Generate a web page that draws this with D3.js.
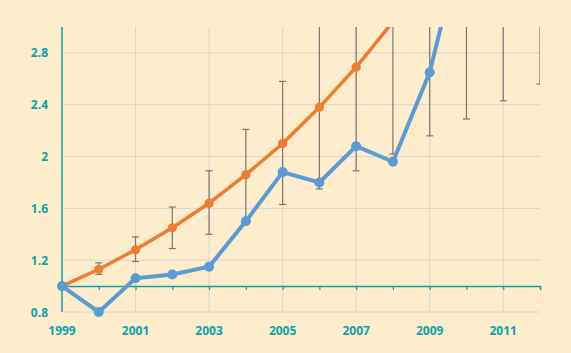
<!DOCTYPE html>
<html>
<head>
<meta charset="utf-8">
<script src="https://cdn.jsdelivr.net/npm/d3@7"></script>
<style>
  body { margin: 0; background: #fdedcd; }
  svg { display: block; }
  .tick-label { font-family: "Open Sans", "DejaVu Sans", sans-serif; font-weight: 700; font-size: 12px; fill: #0aa3a6; }
</style>
</head>
<body>
<script>
// data
const years = [1999, 2000, 2001, 2002, 2003, 2004, 2005, 2006, 2007, 2008, 2009, 2010, 2011, 2012];
const orangeYears = [1999, 2000, 2001, 2002, 2003, 2004, 2005, 2006, 2007, 2008];
const orangeValues = [1.0, 1.13, 1.28, 1.45, 1.64, 1.86, 2.10, 2.38, 2.69, 3.04];
const blueYears = [1999, 2000, 2001, 2002, 2003, 2004, 2005, 2006, 2007, 2008, 2009, 2010];
const blueValues = [1.0, 0.8, 1.06, 1.09, 1.15, 1.50, 1.88, 1.80, 2.08, 1.96, 2.65, 3.8];
const errYears = [2000, 2001, 2002, 2003, 2004, 2005, 2006, 2007, 2008, 2009, 2010, 2011, 2012];
const errLow = [1.09, 1.19, 1.29, 1.40, 1.50, 1.63, 1.75, 1.89, 2.02, 2.16, 2.29, 2.43, 2.56];
const errHigh = [1.18, 1.38, 1.61, 1.89, 2.21, 2.58, 3.1, 3.5, 3.9, 4.3, 4.7, 5.1, 5.5];
const xTicks = [1999, 2001, 2003, 2005, 2007, 2009, 2011];
const yTicks = [0.8, 1.2, 1.6, 2, 2.4, 2.8];

const width = 571, height = 353;
const margin = { top: 27, right: 31, bottom: 41, left: 62 };
const w = width - margin.left - margin.right;
const h = height - margin.top - margin.bottom;

const svg = d3.select('body').append('svg')
    .attr('width', width)
    .attr('height', height);

svg.append('rect').attr('width', width).attr('height', height).attr('fill', '#fdedcd');

const g = svg.append('g').attr('transform', `translate(${margin.left},${margin.top})`);

const x = d3.scaleLinear().domain([1999, 2012]).range([0, w]);
const y = d3.scaleLinear().domain([0.8, 3.0]).range([h, 0]);

// grid
g.selectAll('.hgrid').data(yTicks).join('line')
    .attr('x1', 0).attr('x2', w)
    .attr('y1', d => y(d)).attr('y2', d => y(d))
    .attr('stroke', '#d9d5cc').attr('stroke-width', 1);
g.selectAll('.vgrid').data(xTicks.slice(1)).join('line')
    .attr('x1', d => x(d)).attr('x2', d => x(d))
    .attr('y1', 0).attr('y2', h)
    .attr('stroke', '#d9d5cc').attr('stroke-width', 1);

// axes (teal): vertical at left, horizontal at y = 1
const teal = '#0aa3a6';
g.append('line').attr('x1', 0).attr('x2', 0).attr('y1', 0).attr('y2', h)
    .attr('stroke', teal).attr('stroke-width', 1.5);
const xAxis = g.append('g').attr('transform', `translate(0,${y(1)})`)
    .call(d3.axisBottom(x).tickValues(years).tickSize(4).tickFormat(''));
xAxis.select('.domain').attr('stroke', teal).attr('stroke-width', 1.5);
xAxis.selectAll('.tick line').attr('stroke', teal).attr('stroke-width', 1.2);

// tick labels
g.selectAll('.xl').data(xTicks).join('text')
    .attr('class', 'tick-label')
    .attr('x', d => x(d)).attr('y', h + 23)
    .attr('text-anchor', 'middle')
    .text(d => d);
g.selectAll('.yl').data(yTicks).join('text')
    .attr('class', 'tick-label')
    .attr('x', -14).attr('y', d => y(d) + 4.5)
    .attr('text-anchor', 'end')
    .text(d => d);

// clip only at the top and right edges of the plot
svg.append('clipPath').attr('id', 'plot')
    .append('rect').attr('x', -20).attr('y', 0).attr('width', w + 20).attr('height', h + 20);
const p = g.append('g').attr('clip-path', 'url(#plot)');

// error bars
const errData = errYears.map((yr, i) => ({ yr, lo: errLow[i], hi: errHigh[i] }));
const eb = p.selectAll('.err').data(errData).join('g').attr('stroke', '#7b7570').attr('stroke-width', 1.2);
eb.append('line').attr('x1', d => x(d.yr)).attr('x2', d => x(d.yr)).attr('y1', d => y(d.lo)).attr('y2', d => y(d.hi));
eb.append('line').attr('x1', d => x(d.yr) - 3.5).attr('x2', d => x(d.yr) + 3.5).attr('y1', d => y(d.lo)).attr('y2', d => y(d.lo));
eb.append('line').attr('x1', d => x(d.yr) - 3.5).attr('x2', d => x(d.yr) + 3.5).attr('y1', d => y(d.hi)).attr('y2', d => y(d.hi));

const line = d3.line().x(d => x(d[0])).y(d => y(d[1]));

function series(xs, vs, color, sw, r) {
    const pts = xs.map((yr, i) => [yr, vs[i]]);
    p.append('path').datum(pts)
        .attr('fill', 'none').attr('stroke', color)
        .attr('stroke-width', sw).attr('stroke-linejoin', 'round')
        .attr('d', line);
    p.selectAll(null).data(pts).join('circle')
        .attr('cx', d => x(d[0])).attr('cy', d => y(d[1]))
        .attr('r', r).attr('fill', color);
}

series(orangeYears, orangeValues, '#ee7d31', 3.5, 4.6);
series(blueYears, blueValues, '#5b9bd5', 4, 5);
</script>
</body>
</html>
